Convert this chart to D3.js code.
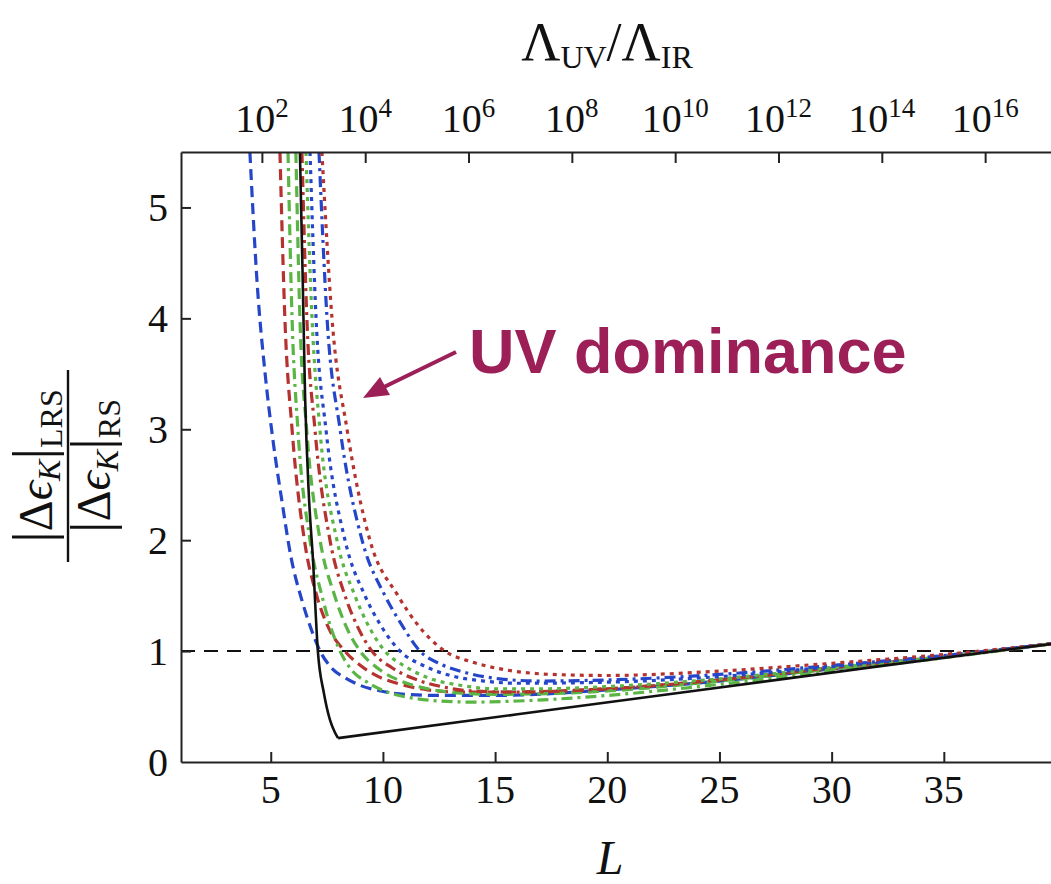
<!DOCTYPE html>
<html>
<head>
<meta charset="utf-8">
<script src="https://cdn.jsdelivr.net/npm/d3@7"></script>
<style>
  html, body { margin: 0; padding: 0; background: #fff; overflow: hidden; }
  text.serif { font-family: "Liberation Serif", "Times New Roman", serif; fill: #111; }
  text.annot { font-family: "Liberation Sans", Arial, Helvetica, sans-serif; font-weight: bold; }
</style>
</head>
<body>
<svg id="chart" width="1051" height="884"></svg>
<script>
// ---- axis ticks ----
const L_TICKS = [5, 10, 15, 20, 25, 30, 35];
const Y_TICKS = [0, 1, 2, 3, 4, 5];
const TOP_EXPONENTS = [2, 4, 6, 8, 10, 12, 14, 16];

// ---- curves: [L, |Δε_K|_LRS / |Δε_K|_RS] ----
const blackFall = [[6.30,5.5],[6.42,4.4],[6.53,3.3],[6.70,2.4],[6.88,1.83],[7.10,1.0],[7.37,0.62],[7.64,0.38],[7.85,0.27],[8.0,0.215]];
const blackRise = [[8.0,0.215],[16,0.43],[24,0.645],[32,0.86],[40,1.07]];

const blueDash = [[4.07,5.5],[4.4,4.3],[4.75,3.5],[5.1,2.9],[5.5,2.35],[5.9,1.85],[6.4,1.45],[6.8,1.2],[7.2,1.0],[7.7,0.85],[8.3,0.76],[9.0,0.69],[9.9,0.64],[11,0.61],[12.5,0.6],[15,0.6],[20,0.65],[25,0.73],[30,0.84],[35,0.95],[40,1.07]];
const redDash = [[5.41,5.5],[5.63,4.0],[5.95,3.0],[6.5,2.0],[7.05,1.5],[7.6,1.2],[8.3,1.0],[9.0,0.87],[9.8,0.77],[10.8,0.7],[12,0.65],[13.5,0.63],[15,0.63],[20,0.66],[25,0.74],[30,0.84],[35,0.95],[40,1.07]];
const greenDashDot = [[5.77,5.5],[5.95,4.0],[6.21,3.0],[6.75,2.0],[7.28,1.5],[7.7,1.2],[8.09,1.0],[8.6,0.83],[9.3,0.72],[10.2,0.63],[11.2,0.58],[12.5,0.55],[14,0.54],[16,0.55],[20,0.6],[25,0.7],[30,0.82],[35,0.94],[40,1.07]];
const greenDash = [[6.12,5.5],[6.3,4.0],[6.6,3.0],[7.2,2.0],[7.85,1.5],[8.3,1.25],[8.98,1.0],[9.8,0.84],[10.8,0.73],[12,0.66],[13.5,0.62],[15,0.61],[20,0.64],[25,0.73],[30,0.84],[35,0.95],[40,1.07]];
const redDashDot = [[6.39,5.5],[6.61,4.0],[6.97,3.0],[7.64,2.0],[8.31,1.5],[8.8,1.25],[9.51,1.0],[10.4,0.85],[11.4,0.75],[12.6,0.68],[14,0.64],[16,0.63],[20,0.66],[25,0.74],[30,0.85],[35,0.95],[40,1.07]];
const greenDot = [[6.57,5.5],[6.84,4.0],[7.19,3.0],[7.95,2.0],[8.75,1.5],[9.3,1.25],[10.09,1.0],[11.0,0.86],[12.0,0.76],[13.5,0.69],[15,0.66],[17,0.66],[20,0.68],[25,0.75],[30,0.85],[35,0.95],[40,1.07]];
const blueDot = [[6.75,5.5],[7.02,4.0],[7.46,3.0],[8.31,2.0],[9.2,1.5],[9.85,1.25],[10.76,1.0],[11.8,0.87],[13,0.78],[14.5,0.73],[16,0.71],[20,0.72],[25,0.77],[30,0.86],[35,0.96],[40,1.07]];
const blueDashDot = [[7.15,5.5],[7.51,4.0],[8.09,3.0],[9.07,2.0],[10.09,1.5],[10.8,1.25],[11.65,1.0],[12.6,0.88],[13.8,0.8],[15.2,0.75],[17,0.73],[20,0.74],[25,0.79],[30,0.87],[35,0.96],[40,1.07]];
const redDot = [[7.28,5.5],[7.73,4.0],[8.40,3.0],[9.42,2.0],[10.67,1.5],[11.5,1.25],[12.76,1.0],[14,0.9],[15.5,0.83],[17.5,0.79],[20,0.78],[25,0.82],[30,0.89],[35,0.97],[40,1.07]];

// ---- drawing ----
const BLUE = "#2546c9", RED = "#b5332f", GREEN = "#5ab544";
const DASH = "11,6", DASHDOT = "11,5,3,5", DOT = "4,5";

const colored = [
  { pts: blueDash, color: BLUE, dash: DASH },
  { pts: redDash, color: RED, dash: DASH },
  { pts: greenDashDot, color: GREEN, dash: DASHDOT },
  { pts: greenDash, color: GREEN, dash: DASH },
  { pts: redDashDot, color: RED, dash: DASHDOT },
  { pts: greenDot, color: GREEN, dash: DOT },
  { pts: blueDot, color: BLUE, dash: DOT },
  { pts: blueDashDot, color: BLUE, dash: DASHDOT },
  { pts: redDot, color: RED, dash: DOT }
];

const svg = d3.select("#chart");
const plotL = 181, plotR = 1056, plotT = 152, plotB = 762;

const x = d3.scaleLinear().domain([1, 40]).range([plotL, plotR]);
const xTop = d3.scaleLog().domain([Math.E, Math.exp(40)]).range([plotL, plotR]);
const y = d3.scaleLinear().domain([0, 5.5]).range([plotB, plotT]);

svg.append("defs").append("clipPath").attr("id", "plotArea")
  .append("rect").attr("x", plotL).attr("y", plotT)
  .attr("width", plotR - plotL).attr("height", plotB - plotT);

const plot = svg.append("g").attr("clip-path", "url(#plotArea)");

// reference line at ratio = 1
plot.append("line")
  .attr("x1", plotL).attr("x2", plotR)
  .attr("y1", y(1)).attr("y2", y(1))
  .attr("stroke", "#111").attr("stroke-width", 2)
  .attr("stroke-dasharray", "14,9");

const smooth = d3.line().x(d => x(d[0])).y(d => y(d[1])).curve(d3.curveMonotoneX);
const straight = d3.line().x(d => x(d[0])).y(d => y(d[1]));

plot.selectAll("path.series").data(colored).enter().append("path")
  .attr("class", "series")
  .attr("d", d => smooth(d.pts))
  .attr("fill", "none")
  .attr("stroke", d => d.color)
  .attr("stroke-width", 3.2)
  .attr("stroke-dasharray", d => d.dash);

plot.append("path").attr("d", smooth(blackFall))
  .attr("fill", "none").attr("stroke", "#111").attr("stroke-width", 2.6);
plot.append("path").attr("d", straight(blackRise))
  .attr("fill", "none").attr("stroke", "#111").attr("stroke-width", 2.6);

// frame and inward ticks
const axisStyle = g => {
  g.select(".domain").attr("stroke", "#222").attr("stroke-width", 2);
  g.selectAll(".tick line").attr("stroke", "#222").attr("stroke-width", 2);
  g.selectAll(".tick text").remove();
};

svg.append("g").attr("transform", `translate(0,${plotB})`)
  .call(d3.axisBottom(x).tickValues(L_TICKS).tickSize(-10).tickSizeOuter(0))
  .call(axisStyle);

svg.append("g").attr("transform", `translate(0,${plotT})`)
  .call(d3.axisTop(xTop).tickValues(TOP_EXPONENTS.map(e => Math.pow(10, e))).tickSize(-11).tickSizeOuter(0))
  .call(axisStyle);

svg.append("g").attr("transform", `translate(${plotL},0)`)
  .call(d3.axisLeft(y).tickValues(Y_TICKS.filter(v => v > 0)).tickSize(-10).tickSizeOuter(0))
  .call(axisStyle);

// tick labels
svg.append("g").selectAll("text").data(L_TICKS).enter().append("text")
  .attr("class", "serif")
  .attr("x", d => x(d)).attr("y", 803)
  .attr("text-anchor", "middle").attr("font-size", 40)
  .text(d => d);

svg.append("g").selectAll("text").data(Y_TICKS).enter().append("text")
  .attr("class", "serif")
  .attr("x", 168).attr("y", d => y(d) + 14)
  .attr("text-anchor", "end").attr("font-size", 40)
  .text(d => d);

const topLabels = svg.append("g").selectAll("text").data(TOP_EXPONENTS).enter().append("text")
  .attr("class", "serif")
  .attr("x", d => xTop(Math.pow(10, d))).attr("y", 132)
  .attr("text-anchor", "middle").attr("font-size", 40);
topLabels.append("tspan").text("10");
topLabels.append("tspan").attr("font-size", 27).attr("dy", -15).text(d => d);

// axis titles
const topTitle = svg.append("text").attr("class", "serif").attr("x", 607).attr("y", 60)
  .attr("text-anchor", "middle").attr("font-size", 54);
topTitle.append("tspan").text("Λ");
topTitle.append("tspan").attr("font-size", 32).attr("dy", 8).text("UV");
topTitle.append("tspan").attr("dy", -8).text("/Λ");
topTitle.append("tspan").attr("font-size", 32).attr("dy", 8).text("IR");

svg.append("text").attr("class", "serif").attr("x", 610).attr("y", 874)
  .attr("text-anchor", "middle").attr("font-size", 48).attr("font-style", "italic")
  .text("L");

// y-axis title: |Δϵ_K|_LRS over |Δϵ_K|_RS
const frac = svg.append("g").attr("transform", "translate(68,466) rotate(-90)");
frac.append("line").attr("x1", -96).attr("x2", 96).attr("y1", 0).attr("y2", 0)
  .attr("stroke", "#111").attr("stroke-width", 2.4);

function fracPart(yPos, sub) {
  const t = frac.append("text").attr("class", "serif").attr("x", 0).attr("y", yPos)
    .attr("text-anchor", "middle").attr("font-size", 48);
  t.append("tspan").attr("font-size", 58).text("|");
  t.append("tspan").text("Δ");
  t.append("tspan").attr("font-style", "italic").text("ϵ");
  t.append("tspan").attr("font-style", "italic").attr("font-size", 32).attr("dy", 8).text("K");
  t.append("tspan").attr("font-size", 58).attr("dy", -8).text("|");
  t.append("tspan").attr("font-size", 32).attr("dy", 10).text(sub);
}
fracPart(-16, "LRS");
fracPart(42, "RS");

// annotation
const ANNOT = "#9c1f57";
svg.append("text").attr("class", "annot").attr("x", 469).attr("y", 373)
  .attr("font-size", 63)
  .style("fill", ANNOT)
  .text("UV dominance");

svg.append("line").attr("x1", 456).attr("y1", 352).attr("x2", 384).attr("y2", 387)
  .attr("stroke", ANNOT).attr("stroke-width", 4);
svg.append("path").attr("d", "M363,398 L380,377 L390,395 Z").attr("fill", ANNOT);
</script>
</body>
</html>
